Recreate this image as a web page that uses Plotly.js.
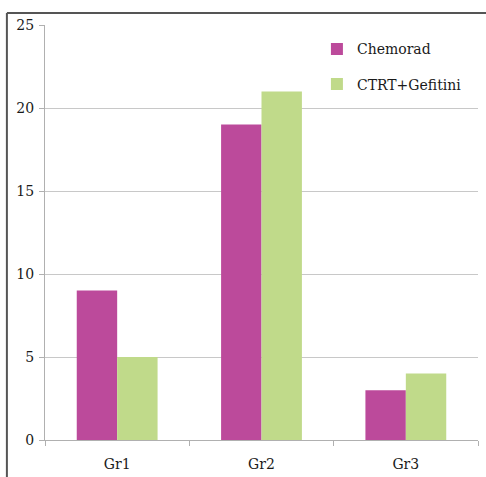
<!DOCTYPE html>
<html>
<head>
<meta charset="utf-8">
<script src="https://cdn.plot.ly/plotly-3.0.1.min.js"></script>
<style>html,body{margin:0;padding:0;background:#fff;}#chart{width:486px;height:477px;}</style>
</head>
<body>
<div id="chart"></div>
<script>
const categories = ["Gr1", "Gr2", "Gr3"];
const chemorad = [9, 19, 3];
const ctrtGefitini = [5, 21, 4];
const yTicks = [0, 5, 10, 15, 20, 25];

const fontFam = "DejaVu Serif, Liberation Serif, serif";

const traces = [
  {type: "bar", name: "Chemorad", x: categories, y: chemorad,
   marker: {color: "#BC4A9B"}, legendgroup: "a"},
  {type: "bar", name: "CTRT+Gefitini", x: categories, y: ctrtGefitini,
   marker: {color: "#C0DA8A"}, legendgroup: "b"}
];

const layout = {
  width: 486, height: 477,
  margin: {l: 45, r: 8, t: 25, b: 37, pad: 0},
  paper_bgcolor: "#fff", plot_bgcolor: "#fff",
  barmode: "group", bargap: 0.44, bargroupgap: 0,
  font: {family: fontFam, size: 14, color: "#1a1a1a"},
  showlegend: true,
  legend: {x: 0.628, y: 0.98, xanchor: "left", yanchor: "top",
           bgcolor: "rgba(0,0,0,0)", font: {family: fontFam, size: 14, color: "#1a1a1a"},
           traceorder: "grouped", tracegroupgap: 14, itemwidth: 30},
  xaxis: {type: "category", tickson: "boundaries", ticks: "outside", ticklen: 5,
          tickcolor: "#b0b0b0", showline: true, linecolor: "#b0b0b0", linewidth: 1,
          showgrid: false, tickfont: {family: fontFam, size: 14, color: "#1a1a1a"},
          ticklabelstandoff: 11, fixedrange: true},
  yaxis: {range: [0, 25], tickvals: yTicks, ticks: "outside", ticklen: 5,
          tickcolor: "#b0b0b0", showline: true, linecolor: "#b0b0b0", linewidth: 1,
          showgrid: true, gridcolor: "#c8c8c8", gridwidth: 1, zeroline: false,
          tickfont: {family: fontFam, size: 14, color: "#1a1a1a"}, ticklabelstandoff: 2,
          fixedrange: true},
  shapes: [
    {type: "line", xref: "paper", yref: "paper", x0: -0.088, x1: 1.02, y0: 1.029, y1: 1.029,
     line: {color: "#555", width: 2}},
    {type: "line", xref: "paper", yref: "paper", x0: -0.088, x1: -0.088, y0: 1.029, y1: -0.1,
     line: {color: "#555", width: 2}}
  ]
};

Plotly.newPlot("chart", traces, layout, {displayModeBar: false, staticPlot: true});
</script>
</body>
</html>
